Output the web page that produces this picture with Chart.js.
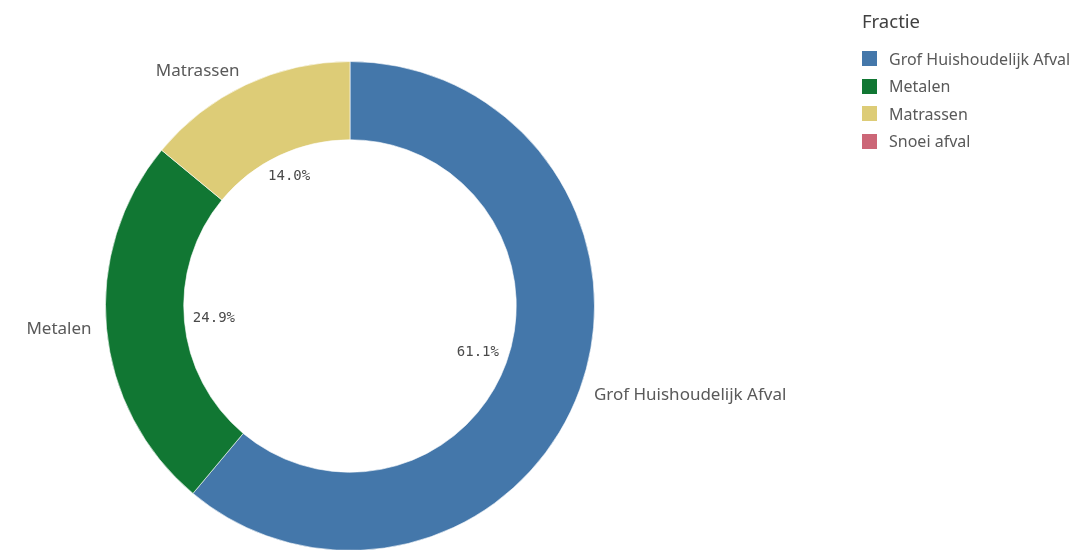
<!DOCTYPE html>
<html>
<head>
<meta charset="utf-8">
<script src="https://cdn.jsdelivr.net/npm/chart.js@4.4.1/dist/chart.umd.min.js"></script>
<style>
    html, body { margin: 0; padding: 0; background: #fff; overflow: hidden; }
    #wrap { position: absolute; left: 0; top: 0; width: 1074px; height: 560px; }
    #legenda { position: absolute; left: 862px; top: 8px; font-family: "Noto Sans", Roboto, sans-serif; color: #595959; }
    #legenda .titel { font-size: 18.5px; color: #404040; margin-bottom: 12px; }
    #legenda .item { font-size: 16px; height: 27.5px; line-height: 20px; display: flex; align-items: center; white-space: nowrap; }
    #legenda .vak { width: 15px; height: 15px; margin-right: 12px; }
</style>
</head>
<body>
<div id="wrap"><canvas id="fractie"></canvas></div>
<div id="legenda"></div>
<script>
// Datos
var categorieen = ["Grof Huishoudelijk Afval", "Metalen", "Matrassen", "Snoei afval"];
var percentages = [61.1, 24.9, 14.0, 0];
var kleuren = ["#4477aa", "#117733", "#ddcc77", "#cc6677"];
var legendaTitel = "Fractie";

// Leyenda en HTML
var leg = document.getElementById('legenda');
var html = '<div class="titel">' + legendaTitel + '</div>';
for (var i = 0; i < categorieen.length; i++) {
    html += '<div class="item"><span class="vak" style="background:' + kleuren[i] + '"></span>' + categorieen[i] + '</div>';
}
leg.innerHTML = html;

// Etiquetas dentro y fuera del anillo
var etiketten = {
    id: 'etiketten',
    afterDatasetsDraw: function (chart) {
        var ctx = chart.ctx;
        var meta = chart.getDatasetMeta(0);
        meta.data.forEach(function (arc, i) {
            var v = percentages[i];
            if (!v) return;
            var p = arc.getProps(['x', 'y', 'startAngle', 'endAngle', 'innerRadius', 'outerRadius'], true);
            var a = (p.startAngle + p.endAngle) / 2;
            var c = Math.cos(a), s = Math.sin(a);

            // buiten: naam
            ctx.save();
            ctx.font = '17px "Noto Sans", Roboto, sans-serif';
            ctx.fillStyle = '#595959';
            ctx.textBaseline = 'middle';
            ctx.textAlign = c < 0 ? 'right' : 'left';
            var ro = p.outerRadius + 15;
            ctx.fillText(categorieen[i], p.x + c * ro, p.y + s * ro);

            // binnen: percentage
            ctx.font = '14px "DejaVu Sans Mono", monospace';
            ctx.fillStyle = '#4a4a4a';
            ctx.textAlign = 'center';
            var txt = v.toFixed(1) + '%';
            var w = ctx.measureText(txt).width;
            var ext = Math.abs(c) * w / 2 + Math.abs(s) * 7;
            var ri = p.innerRadius - ext - 8;
            ctx.fillText(txt, p.x + c * ri, p.y + s * ri);
            ctx.restore();
        });
    }
};

var config = {
    type: 'doughnut',
    data: {
        labels: categorieen,
        datasets: [{
            data: percentages,
            backgroundColor: kleuren,
            borderColor: 'rgba(255,255,255,0.6)',
            borderWidth: 1
        }]
    },
    options: {
        responsive: true,
        maintainAspectRatio: false,
        animation: false,
        cutout: '68%',
        layout: { padding: { top: 61, bottom: 9, left: 105, right: 479 } },
        plugins: {
            legend: { display: false },
            tooltip: { enabled: false }
        }
    },
    plugins: [etiketten]
};

new Chart(document.getElementById('fractie'), config);
</script>
</body>
</html>
